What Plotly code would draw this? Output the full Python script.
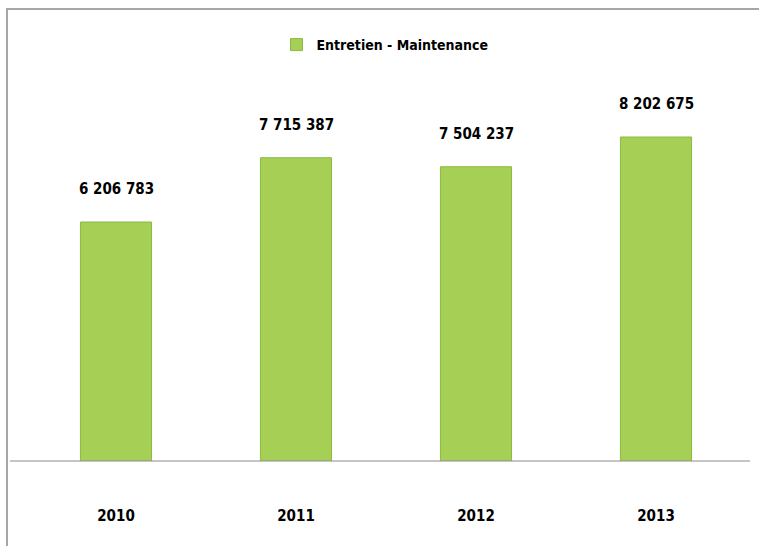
import plotly.graph_objects as go

years = ["2010", "2011", "2012", "2013"]
values = [6206783, 7715387, 7504237, 8202675]
series_name = "Entretien - Maintenance"


def fmt(v):
    return f"{v:,}".replace(",", " ")


FONT = "Liberation Sans Narrow, DejaVu Sans Condensed, Arial Narrow, sans-serif"
W, H = 759, 546
L, R, T, B = 26, 13, 80, 85
plot_w = W - L - R
plot_h = H - T - B


def px_x(p):
    return (p - L) / plot_w


def px_y(p):
    return (H - B - p) / plot_h


fig = go.Figure()
fig.add_trace(go.Bar(
    x=years,
    y=values,
    name=series_name,
    width=0.395,
    marker=dict(color="#A6CF56", line=dict(color="#8CB940", width=1)),
    showlegend=True,
))

# value labels above each bar (category index positions)
annotations = [
    dict(x=i, y=v, xref="x", yref="y", text=fmt(v), showarrow=False, yanchor="bottom", yshift=22,
         font=dict(family=FONT, size=15, color="#000000", weight="bold"))
    for i, v in enumerate(values)
]

shapes = [
    # outer frame (left and top edges)
    dict(type="line", xref="paper", yref="paper", x0=px_x(7), x1=px_x(7), y0=px_y(9), y1=px_y(H + 5),
         line=dict(color="#A6A6A6", width=2)),
    dict(type="line", xref="paper", yref="paper", x0=px_x(6), x1=px_x(W + 5), y0=px_y(9), y1=px_y(9),
         line=dict(color="#A6A6A6", width=2)),
    # category axis baseline
    dict(type="line", xref="paper", yref="paper", x0=px_x(10), x1=px_x(750), y0=0, y1=0,
         line=dict(color="#8C8C8C", width=1)),
]

fig.update_layout(
    width=W, height=H,
    margin=dict(l=L, r=R, t=T, b=B),
    paper_bgcolor="white", plot_bgcolor="white",
    font=dict(family=FONT, color="#000000"),
    xaxis=dict(type="category", range=[-0.5, len(years) - 0.5], autorange=False,
               showline=False, showgrid=False, ticks="",
               tickfont=dict(family=FONT, size=15, color="#000000", weight="bold"),
               ticklabelstandoff=44),
    yaxis=dict(range=[595000, 9541000], autorange=False, visible=False, showgrid=False),
    legend=dict(orientation="h", x=px_x(385), xanchor="center", y=px_y(45), yanchor="middle",
                font=dict(family=FONT, size=14, color="#000000", weight="bold"), itemwidth=30,
                bgcolor="rgba(0,0,0,0)"),
    annotations=annotations,
    shapes=shapes,
)

fig.write_html("out.html")
